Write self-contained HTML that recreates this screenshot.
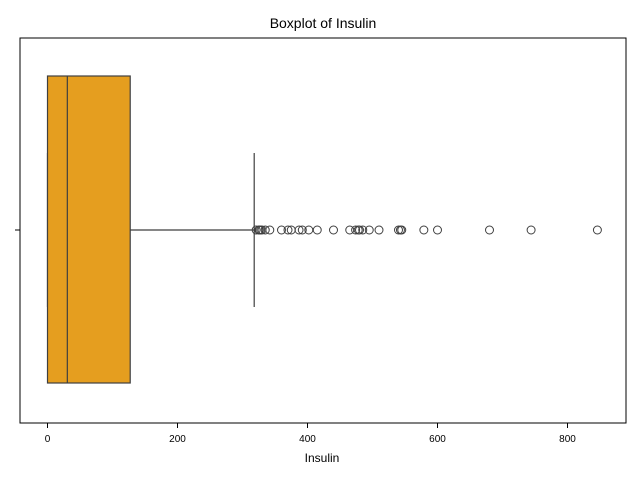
<!DOCTYPE html>
<html><head><meta charset="utf-8"><style>
body{margin:0;background:#fff;font-family:"Liberation Sans","DejaVu Sans",sans-serif;}
</style></head><body>
<svg id="chart" width="640" height="480" xmlns="http://www.w3.org/2000/svg">
<text x="323" y="28" text-anchor="middle" font-size="14" fill="#000">Boxplot of Insulin</text>
<g id="plot"></g>
<rect x="20" y="38" width="606" height="385" fill="none" stroke="#000" stroke-width="1"/>
<text x="322" y="462" text-anchor="middle" font-size="12">Insulin</text>
</svg>
<script>
const xTicks=[0,200,400,600,800];
const boxStats=[0,30.5,127.25]; // q1, median, q3
const whiskers=[0,318];
const outliers=[321,325,326,328,330,335,342,360,370,375,387,392,402,415,440,465,474,478,480,485,495,510,540,543,545,579,600,680,744,846];
const NS="http://www.w3.org/2000/svg";
const X=v=>47.5+v*0.65;
const cy=230;
const g=document.getElementById('plot');
function mk(t,a){const e=document.createElementNS(NS,t);for(const k in a)e.setAttribute(k,a[k]);g.appendChild(e);return e;}
xTicks.forEach(t=>{
 const l=mk('line',{x1:X(t),x2:X(t),y1:423,y2:428,stroke:'#000'});
 
 
 const tx=mk('text',{x:X(t),y:442,'text-anchor':'middle','font-size':10});
 tx.textContent=t;
 
 
});
const yt=mk('line',{x1:15,x2:20,y1:cy,y2:cy,stroke:'#000'});


const w1=mk('line',{x1:X(boxStats[2]),x2:X(whiskers[1]),y1:cy,y2:cy,stroke:'#3f3f3f','stroke-width':1.2});


const cap=mk('line',{x1:X(whiskers[1]),x2:X(whiskers[1]),y1:153,y2:307,stroke:'#3f3f3f','stroke-width':1.2});


const capL=mk('line',{x1:X(whiskers[0]),x2:X(whiskers[0]),y1:153,y2:307,stroke:'#3f3f3f','stroke-width':1.2});


const box=mk('rect',{x:X(boxStats[0]),y:76,width:X(boxStats[2])-X(boxStats[0]),height:307,fill:'#e59e1f',stroke:'#3f3f3f','stroke-width':1.2});


const med=mk('line',{x1:X(boxStats[1]),x2:X(boxStats[1]),y1:76,y2:383,stroke:'#3f3f3f','stroke-width':1.2});


outliers.forEach(v=>{
 const c=mk('circle',{cx:X(v),cy:cy,r:4,fill:'none',stroke:'#3f3f3f','stroke-width':1});
 
 
});
</script>
</body></html>
